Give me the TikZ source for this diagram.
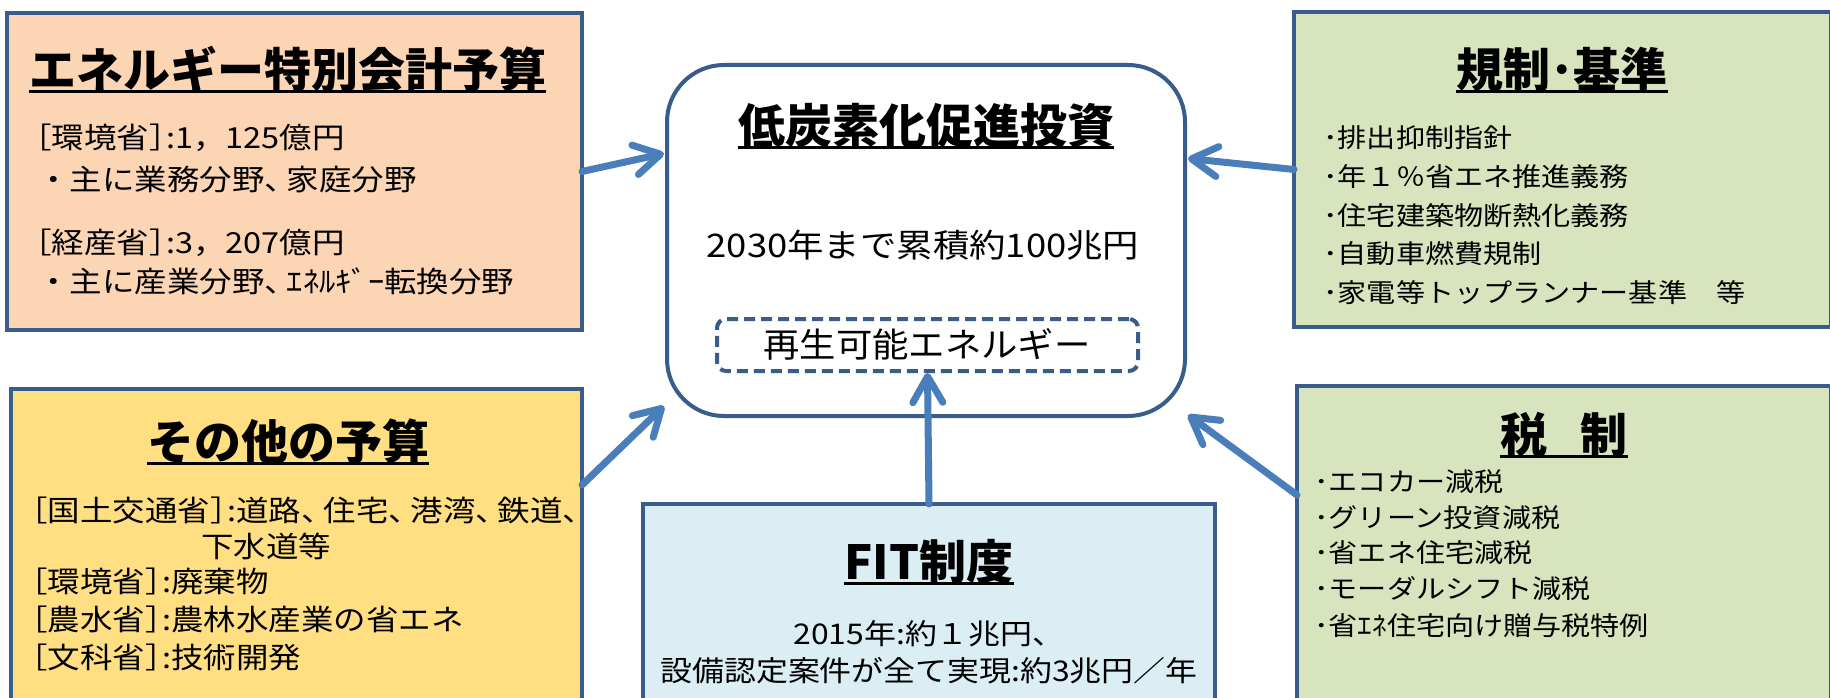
\documentclass[tikz,border=0pt]{standalone}
\usepackage{fontspec}
\setmainfont{Noto Sans CJK JP}
\newfontfamily\jbody{Noto Sans CJK JP}[FakeStretch=1.12]
\newfontfamily\jdash{Noto Sans CJK JP}[FakeStretch=1.07]
\newcommand\hp[1]{{\addfontfeature{RawFeature=+halt}#1}}
\newcommand\tou{\hp{、}\kern6pt}
\newcommand\tojk{\hp{］}\kern1pt}
\usetikzlibrary{arrows.meta,calc}
\definecolor{bord}{HTML}{385D8A}
\definecolor{arr}{HTML}{4A7EBB}
\definecolor{peach}{HTML}{FCD5B5}
\definecolor{gold}{HTML}{FFDF82}
\definecolor{olive}{HTML}{D7E4BD}
\definecolor{aqua}{HTML}{DBEEF4}
\begin{document}
\begin{tikzpicture}[x=1pt,y=-1pt,
  panel/.style={draw=bord, line width=4pt, anchor=north west, inner sep=0pt, outer sep=0pt},
  ttl/.style={font=\fontsize{47}{47}\selectfont\bfseries, inner sep=0pt, anchor=base},
  body/.style={font=\jbody\fontsize{29}{29}\selectfont, inner sep=0pt, anchor=base west},
  rbody/.style={font=\jbody\fontsize{26}{26}\selectfont, inner sep=0pt, anchor=base west},
  uline/.style={line width=3pt, black},
  arrowline/.style={draw=arr, line width=7pt, line cap=round, -{Straight Barb[round,length=26pt,width=30pt]}},
]
\useasboundingbox (0,0) rectangle (1830,698);
\clip (0,0) rectangle (1830,698);
\fill[white] (0,0) rectangle (1830,698);

% panels
\node[panel, fill=peach, minimum width=575pt, minimum height=317pt] (b1) at (7,13) {};
\node[panel, fill=gold, minimum width=571pt, minimum height=340pt] (yel) at (11,389) {};
\node[panel, fill=white, rounded corners=57pt, minimum width=518pt, minimum height=351pt] (ctr) at (667,65) {};
\node[panel, dash pattern=on 11pt off 6pt, rounded corners=9pt, minimum width=421pt, minimum height=52pt] (dsh) at (717,319) {};
\node[panel, fill=aqua, minimum width=572pt, minimum height=230pt] (fit) at (643,504) {};
\node[panel, fill=olive, minimum width=537pt, minimum height=315pt] (g1) at (1294,12) {};
\node[panel, fill=olive, minimum width=534pt, minimum height=350pt] (g2) at (1297,386) {};

% arrows
\draw[arrowline] (b1.east) -- ([xshift=-3pt,yshift=87pt]ctr.west);
\draw[arrowline] ([yshift=74pt]yel.east) -- ([xshift=-3pt,yshift=10pt]ctr.south west);
\draw[arrowline] (fit.north) -- ([yshift=-2pt]dsh.south);
\draw[arrowline] (g1.west) -- ([xshift=3pt,yshift=82pt]ctr.east);
\draw[arrowline] ([yshift=66pt]g2.west) -- ([xshift=3pt,yshift=1pt]ctr.south east);

% box 1
\node[ttl, anchor=base west] (t1) at (29,88) {エネルギー特別会計予算};
\draw[uline] ([yshift=-4pt]t1.base west) -- ([yshift=-4pt]t1.base east);
\node[body] (b1l1) at (19,149) {［環境省\tojk:1，125億円};
\node[body] (b1l2) at (37,190) {・主に業務分野\tou 家庭分野};
\node[body] (b1l3) at (19,253) {［経産省\tojk:3，207億円};
\node[body] (b1l4) at (37,292) {・主に産業分野\tou ｴﾈﾙｷﾞｰ転換分野};

% yellow box
\node[ttl] (t2) at (288,459) {その他の予算};
\draw[uline] ([yshift=-4pt]t2.base west) -- ([yshift=-4pt]t2.base east);
\node[body] (y1) at (15,521) {［国土交通省\tojk:道路\tou 住宅\tou 港湾\tou 鉄道\hp{、}};
\node[body, anchor=base] (y2) at (266,557) {下水道等};
\node[body] (y3) at (15,592) {［環境省\tojk:廃棄物};
\node[body] (y4) at (15,630) {［農水省\tojk:農林水産業の省エネ};
\node[body] (y5) at (15,668) {［文科省\tojk:技術開発};

% center
\node[ttl] (t3) at (926,143) {低炭素化促進投資};
\draw[uline] ([yshift=-4pt]t3.base west) -- ([yshift=-4pt]t3.base east);
\node[body, anchor=base, font=\jbody\fontsize{32.5}{32.5}\selectfont] (c1) at (923,257) {2030年まで累積約100兆円};
\node[body, anchor=base, font=\jdash\fontsize{34}{34}\selectfont] (c2) at (927,357) {再生可能エネルギー};

% FIT
\node[ttl] (t4) at (929,579) {FIT制度};
\draw[uline] ([yshift=-4pt]t4.base west) -- ([yshift=-4pt]t4.base east);
\node[body, anchor=base, font=\jbody\fontsize{28.5}{28.5}\selectfont] (f1) at (929,644) {2015年:約１兆円、};
\node[body, anchor=base, font=\jbody\fontsize{28.5}{28.5}\selectfont] (f2) at (929,681) {設備認定案件が全て実現:約3兆円／年};

% green top
\node[ttl] (t5) at (1562,88) {規制･基準};
\draw[uline] ([yshift=-4pt]t5.base west) -- ([yshift=-4pt]t5.base east);
\node[rbody] (r1) at (1323,147) {･排出抑制指針};
\node[rbody] (r2) at (1323,186) {･年１％省エネ推進義務};
\node[rbody] (r3) at (1323,225) {･住宅建築物断熱化義務};
\node[rbody] (r4) at (1323,263) {･自動車燃費規制};
\node[rbody] (r5) at (1323,302) {･家電等トップランナー基準　等};

% green bottom
\node[ttl] (t6) at (1564,452) {税\hspace{0.7em}制};
\draw[uline] ([yshift=-4pt]t6.base west) -- ([yshift=-4pt]t6.base east);
\node[rbody] (s1) at (1314,491) {･エコカー減税};
\node[rbody] (s2) at (1314,527) {･グリーン投資減税};
\node[rbody] (s3) at (1314,562) {･省エネ住宅減税};
\node[rbody] (s4) at (1314,598) {･モーダルシフト減税};
\node[rbody] (s5) at (1314,635) {･省ｴﾈ住宅向け贈与税特例};
\end{tikzpicture}
\end{document}
